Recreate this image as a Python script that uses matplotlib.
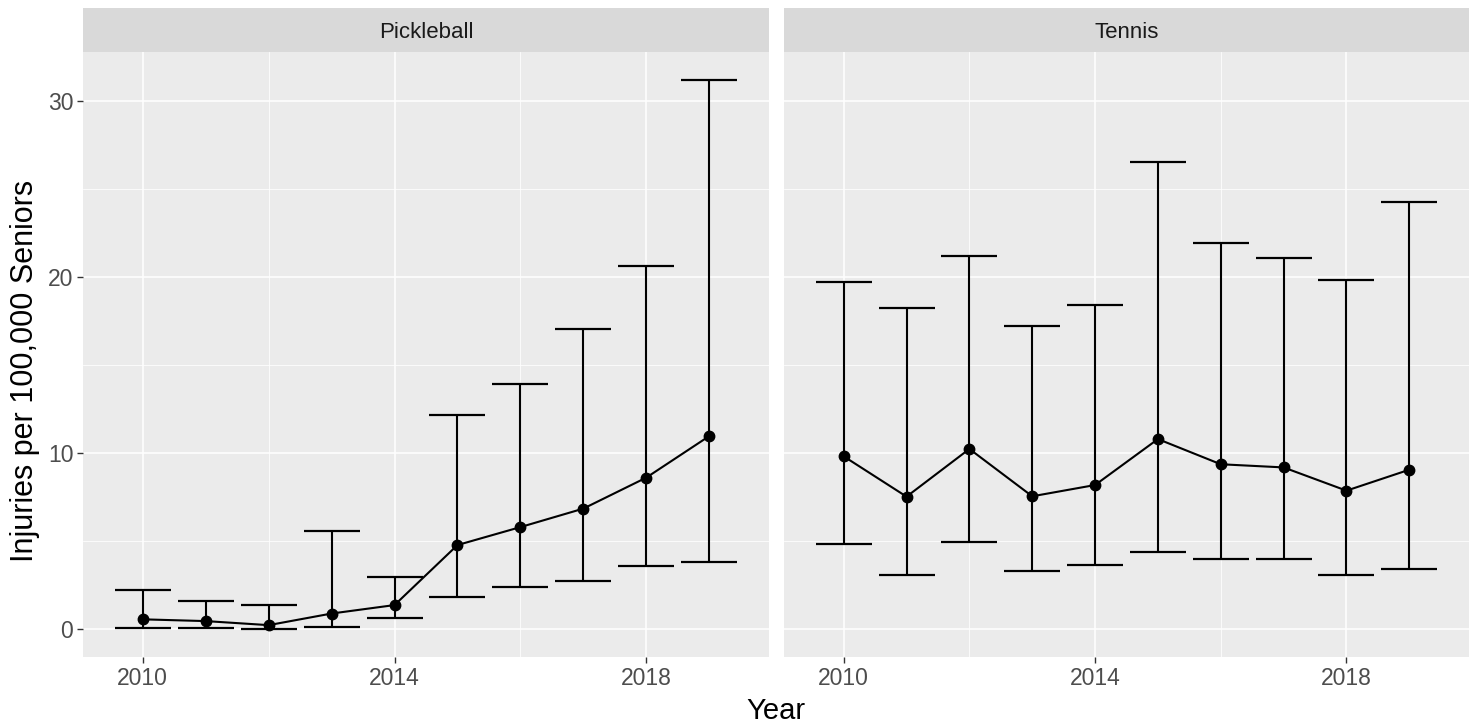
import matplotlib.pyplot as plt
import numpy as np

plt.rcParams['font.family'] = ['Liberation Sans', 'DejaVu Sans']

years = [2010, 2011, 2012, 2013, 2014, 2015, 2016, 2017, 2018, 2019]

pickle_rate = [0.57, 0.47, 0.24, 0.90, 1.38, 4.79, 5.81, 6.86, 8.62, 10.98]
pickle_lo = [0.10, 0.10, 0.02, 0.13, 0.62, 1.86, 2.40, 2.76, 3.60, 3.85]
pickle_hi = [2.23, 1.63, 1.40, 5.59, 2.97, 12.20, 13.94, 17.06, 20.64, 31.23]

tennis_rate = [9.83, 7.54, 10.25, 7.56, 8.20, 10.81, 9.38, 9.20, 7.88, 9.07]
tennis_lo = [4.87, 3.09, 4.96, 3.31, 3.66, 4.40, 4.00, 3.98, 3.09, 3.41]
tennis_hi = [19.75, 18.24, 21.20, 17.21, 18.45, 26.53, 21.93, 21.09, 19.85, 24.26]

panels = ['Pickleball', 'Tennis']

W, H = 1477, 728
fig = plt.figure(figsize=(W / 100, H / 100), dpi=100)

def px(x0, y0, x1, y1):
    # pixel box -> figure fraction
    return [x0 / W, 1 - y1 / H, (x1 - x0) / W, (y1 - y0) / H]

boxes = [(83, 52, 769, 657), (784, 52, 1469, 657)]
data = [(pickle_rate, pickle_lo, pickle_hi), (tennis_rate, tennis_lo, tennis_hi)]

tick_col = '#4D4D4D'
for i, (name, box, (rate, lo, hi)) in enumerate(zip(panels, boxes, data)):
    ax = fig.add_axes(px(*box))
    ax.set_facecolor('#EBEBEB')
    for s in ax.spines.values():
        s.set_visible(False)
    ax.set_xlim(2009.05, 2019.95)
    ax.set_ylim(-1.57, 32.8)
    ax.set_xticks([2010, 2014, 2018])
    ax.set_xticks([2012, 2016], minor=True)
    ax.set_yticks([0, 10, 20, 30])
    ax.set_yticks([5, 15, 25], minor=True)
    ax.grid(True, which='major', color='white', lw=1.1)
    ax.grid(True, which='minor', color='white', lw=0.55)
    ax.set_axisbelow(True)
    ax.tick_params(which='major', length=4, width=1.0, color='#333333',
                   labelsize=16.5, labelcolor=tick_col, pad=3)
    ax.tick_params(which='minor', length=0)
    if i > 0:
        ax.tick_params(axis='y', which='both', length=0, labelleft=False)

    yrs = np.array(years)
    err = [np.array(rate) - np.array(lo), np.array(hi) - np.array(rate)]
    ax.errorbar(yrs, rate, yerr=err, fmt='none', ecolor='black',
                elinewidth=1.5, capsize=20, capthick=1.6, zorder=3)
    ax.plot(yrs, rate, color='black', lw=1.5, zorder=4)
    ax.plot(yrs, rate, 'o', color='black', ms=7.5, zorder=5)

    sx = fig.add_axes(px(box[0], 8, box[2], 52))
    sx.set_facecolor('#D9D9D9')
    sx.set_xticks([])
    sx.set_yticks([])
    for s in sx.spines.values():
        s.set_visible(False)
    sx.text(0.5, 0.45, name, ha='center', va='center', fontsize=16,
            color='#1A1A1A', transform=sx.transAxes)

fig.text(776 / W, 1 - 711 / H, 'Year', ha='center', va='center', fontsize=21)
fig.text(25 / W, 1 - 371 / H, 'Injuries per 100,000 Seniors', ha='center',
         va='center', rotation=90, fontsize=22)

plt.savefig('out.png', dpi=100)
